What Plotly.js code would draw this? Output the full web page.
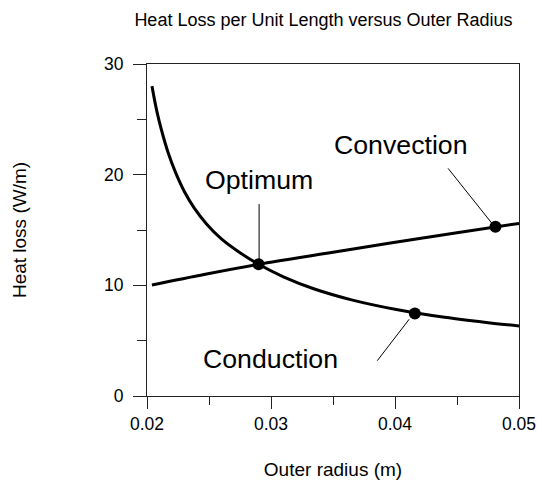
<!DOCTYPE html>
<html>
<head>
<meta charset="utf-8">
<script src="https://cdn.plot.ly/plotly-3.0.1.min.js"></script>
<style>html,body{margin:0;padding:0;background:#fff;}#chart{width:537px;height:480px;}</style>
</head>
<body>
<div id="chart"></div>
<script>
// Conduction curve
const condRadius = [0.0204, 0.0208, 0.0212, 0.0217, 0.0223, 0.0230, 0.0238, 0.0248, 0.0260, 0.0275, 0.0290, 0.0310, 0.0335, 0.0365, 0.0400, 0.0440, 0.0480, 0.0500];
const condLoss   = [28.0, 25.7, 23.9, 22.0, 20.2, 18.5, 17.0, 15.55, 14.2, 12.95, 11.9, 10.77, 9.67, 8.69, 7.84, 7.11, 6.56, 6.33];
// Convection curve
const convRadius = [0.0204, 0.0247, 0.0290, 0.0345, 0.0395, 0.0450, 0.0500];
const convLoss   = [10.03, 11.0, 11.9, 12.9, 13.8, 14.75, 15.6];
// Highlighted points
const markRadius = [0.0290, 0.0481, 0.0416];
const markLoss   = [11.9, 15.3, 7.45];
const markNames  = ["Optimum", "Convection", "Conduction"];
// Ticks
const xTicks = [0.02, 0.03, 0.04, 0.05];
const xTickText = ["0.02", "0.03", "0.04", "0.05"];
const yTicks = [0, 10, 20, 30];

const FONT = "Liberation Sans, Arial, Helvetica, sans-serif";

const traces = [
  {x: condRadius, y: condLoss, mode: "lines", line: {color: "#000", width: 3, shape: "spline", smoothing: 1}, hoverinfo: "skip", showlegend: false},
  {x: convRadius, y: convLoss, mode: "lines", line: {color: "#000", width: 3, shape: "spline", smoothing: 1}, hoverinfo: "skip", showlegend: false},
  {x: markRadius, y: markLoss, text: markNames, mode: "markers", marker: {color: "#000", size: 12}, showlegend: false}
];

const layout = {
  width: 537, height: 480,
  margin: {l: 147, r: 18, t: 64, b: 84, pad: 0},
  paper_bgcolor: "#fff", plot_bgcolor: "#fff",
  font: {family: FONT, color: "#000", size: 17},
  title: {text: "Heat Loss per Unit Length versus Outer Radius", font: {family: FONT, size: 18, color: "#000"},
          xref: "container", yref: "container", x: 0.6024, xanchor: "center", y: 1 - 20/480, yanchor: "middle"},
  xaxis: {
    range: [0.02, 0.05], tickvals: xTicks, ticktext: xTickText,
    ticks: "outside", ticklen: 12, tickwidth: 1, tickcolor: "#222",
    showline: true, linecolor: "#222", linewidth: 1, mirror: true,
    showgrid: false, zeroline: false,
    tickfont: {family: FONT, size: 17.5, color: "#000"},
    minor: {dtick: 0.005, tick0: 0.02, ticks: "outside", ticklen: 8, tickwidth: 1, tickcolor: "#222", showgrid: false},
    title: {text: "Outer radius (m)", font: {family: FONT, size: 19, color: "#000"}, standoff: 31},
    automargin: false, fixedrange: true
  },
  yaxis: {
    range: [0, 30], tickvals: yTicks,
    ticks: "outside", ticklen: 13, tickwidth: 1, tickcolor: "#222",
    showline: true, linecolor: "#222", linewidth: 1, mirror: true,
    showgrid: false, zeroline: false,
    ticklabelstandoff: 6,
    tickfont: {family: FONT, size: 17.5, color: "#000"},
    minor: {dtick: 5, tick0: 0, ticks: "outside", ticklen: 9, tickwidth: 1, tickcolor: "#222", showgrid: false},
    title: {text: "Heat loss (W/m)", font: {family: FONT, size: 19, color: "#000"}, standoff: 72},
    automargin: false, fixedrange: true
  },
  annotations: [
    {text: "Optimum", x: 0.02904, y: 19.55, xref: "x", yref: "y", showarrow: false, xanchor: "center", yanchor: "middle", font: {family: FONT, size: 26.7, color: "#000"}},
    {text: "Convection", x: 0.04047, y: 22.67, xref: "x", yref: "y", showarrow: false, xanchor: "center", yanchor: "middle", font: {family: FONT, size: 26.7, color: "#000"}},
    {text: "Conduction", x: 0.02997, y: 3.3, xref: "x", yref: "y", showarrow: false, xanchor: "center", yanchor: "middle", font: {family: FONT, size: 26.7, color: "#000"}}
  ],
  shapes: [
    {type: "line", xref: "x", yref: "y", x0: 0.02904, y0: 17.34, x1: 0.02904, y1: 11.9, line: {color: "#000", width: 1}},
    {type: "line", xref: "x", yref: "y", x0: 0.04428, y0: 20.57, x1: 0.04786, y1: 15.54, line: {color: "#000", width: 1}},
    {type: "line", xref: "x", yref: "y", x0: 0.03857, y0: 3.19, x1: 0.04114, y1: 6.93, line: {color: "#000", width: 1}}
  ]
};

Plotly.newPlot("chart", traces, layout, {displayModeBar: false, staticPlot: true});
</script>
</body>
</html>
